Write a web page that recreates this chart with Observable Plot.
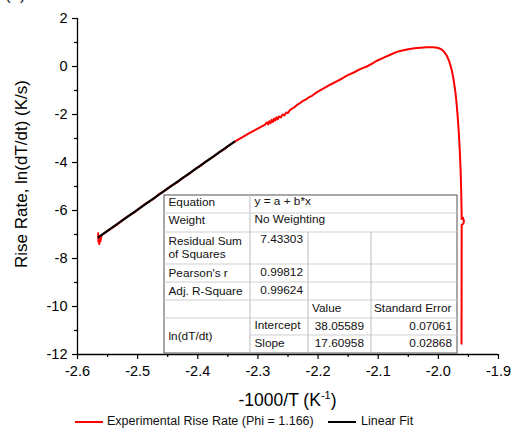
<!DOCTYPE html>
<html>
<head>
<meta charset="utf-8">
<script src="https://cdn.jsdelivr.net/npm/d3@7"></script>
<script src="https://cdn.jsdelivr.net/npm/@observablehq/plot@0.6"></script>
<style>
  html, body { margin: 0; padding: 0; background: #fff; }
  #wrap { position: relative; width: 512px; height: 430px; overflow: hidden; font-family: "Liberation Sans", Arial, sans-serif; }
  #panel { position: absolute; left: 5px; top: -15px; font-size: 17px; color: #222; }
  #legend { position: absolute; left: 0; top: 412px; width: 512px; height: 18px; font-size: 12.5px; color: #111; }
  .sw { position: absolute; top: 9px; height: 2px; }
  .lt { position: absolute; top: 1px; line-height: 16px; white-space: nowrap; }
</style>
</head>
<body>
<div id="wrap">
  <div id="chart"></div>
  <div id="panel">(a)</div>
  <div id="legend"></div>
</div>
<script>
// ---- data ----
const redSeries = [
  [-2.5657,-6.95],[-2.5652,-7.30],[-2.5645,-7.05],[-2.5638,-7.40],[-2.5630,-7.10],[-2.5622,-7.30],
  [-2.5600,-7.03],[-2.555,-6.94],[-2.545,-6.77],[-2.535,-6.60],[-2.525,-6.40],[-2.515,-6.22],
  [-2.505,-6.07],[-2.495,-5.87],[-2.485,-5.68],[-2.475,-5.54],[-2.465,-5.33],[-2.455,-5.17],
  [-2.445,-4.98],[-2.435,-4.84],[-2.425,-4.64],[-2.415,-4.49],[-2.405,-4.28],[-2.395,-4.13],
  [-2.385,-3.93],[-2.375,-3.78],[-2.365,-3.58],[-2.355,-3.43],[-2.345,-3.23],[-2.335,-3.08],
  [-2.325,-2.93],[-2.315,-2.79],[-2.305,-2.65],[-2.295,-2.52],[-2.288,-2.42],[-2.285,-2.33],
  [-2.283,-2.41],[-2.281,-2.28],[-2.279,-2.36],[-2.277,-2.22],[-2.275,-2.31],[-2.273,-2.17],
  [-2.271,-2.25],[-2.269,-2.12],[-2.267,-2.20],[-2.265,-2.08],[-2.262,-2.12],[-2.259,-2.00],
  [-2.256,-2.04],[-2.253,-1.92],[-2.250,-1.94],[-2.247,-1.82],[-2.243,-1.75],[-2.239,-1.69],
  [-2.235,-1.60],[-2.230,-1.53],[-2.225,-1.43],[-2.220,-1.37],[-2.215,-1.28],[-2.210,-1.22],
  [-2.2025,-1.08],[-2.19,-0.90],[-2.18,-0.76],[-2.169,-0.62],[-2.16,-0.50],[-2.153,-0.39],
  [-2.14,-0.24],[-2.13,-0.11],[-2.119,0.0],[-2.11,0.12],[-2.103,0.23],[-2.09,0.38],
  [-2.08,0.49],[-2.07,0.60],[-2.06,0.67],[-2.05,0.72],[-2.04,0.76],[-2.03,0.785],
  [-2.02,0.80],[-2.01,0.80],[-2.004,0.79],[-1.999,0.76],[-1.994,0.70],[-1.990,0.60],
  [-1.986,0.45],[-1.982,0.22],[-1.978,-0.12],[-1.975,-0.50],[-1.972,-1.00],[-1.970,-1.45],
  [-1.968,-2.05],[-1.966,-2.75],[-1.9645,-3.45],[-1.963,-4.30],[-1.962,-5.20],[-1.9615,-5.90],
  [-1.9612,-6.35],[-1.9590,-6.30],[-1.9575,-6.45],[-1.9585,-6.55],[-1.9612,-6.60],[-1.9613,-8.00],
  [-1.9614,-10.00],[-1.9615,-11.55]
];
const fitX = [-2.565, -2.339];
const fitY = [-7.11, -3.13];
const xTicks = [-2.6, -2.5, -2.4, -2.3, -2.2, -2.1, -2.0, -1.9];
const xMinor = [-2.55, -2.45, -2.35, -2.25, -2.15, -2.05, -1.95];
const yTicks = [-12, -10, -8, -6, -4, -2, 0, 2];
const yMinor = [-11, -9, -7, -5, -3, -1, 1];
const seriesNames = ["Experimental Rise Rate (Phi = 1.166)", "Linear Fit"];
const seriesColors = ["#ff0000", "#000000"];
const yLabel = "Rise Rate, ln(dT/dt) (K/s)";
const xLabelMain = "-1000/T (K";
const xLabelSup = "-1";
// fit table
const tableRows = [
  ["Equation", "y = a + b*x"],
  ["Weight", "No Weighting"],
  ["Residual Sum", "of Squares", "7.43303"],
  ["Pearson's r", "0.99812"],
  ["Adj. R-Square", "0.99624"],
  ["Value", "Standard Error"],
  ["ln(dT/dt)", "Intercept", "38.05589", "0.07061"],
  ["Slope", "17.60958", "0.02868"]
];

// ---- chart ----
const fitData = fitX.map((x, i) => ({x, y: fitY[i]}));
const chart = Plot.plot({
  width: 512, height: 412,
  marginLeft: 77, marginRight: 14, marginTop: 18, marginBottom: 58,
  x: {domain: [-2.6, -1.9]},
  y: {domain: [-12, 2]},
  style: {fontFamily: "'Liberation Sans', Arial, sans-serif", fontSize: "14.5px", background: "white", color: "#000", overflow: "visible"},
  marks: [
    Plot.axisX(xTicks, {tickSize: 5, tickPadding: 6, tickFormat: d => d.toFixed(1), label: null, strokeWidth: 1.2, fontSize: 14.5}),
    Plot.axisX(xMinor, {tickSize: 3, tickFormat: () => "", label: null, strokeWidth: 1.2}),
    Plot.axisY(yTicks, {tickSize: 5, tickPadding: 5, tickFormat: d => String(d), label: null, strokeWidth: 1.2, fontSize: 14.5}),
    Plot.axisY(yMinor, {tickSize: 3, tickFormat: () => "", label: null, strokeWidth: 1.2}),
    Plot.ruleX([-2.6], {strokeWidth: 1.3}),
    Plot.ruleY([-12], {strokeWidth: 1.3}),
    Plot.line(redSeries, {x: d => d[0], y: d => d[1], stroke: seriesColors[0], strokeWidth: 2}),
    Plot.line(fitData, {x: "x", y: "y", stroke: seriesColors[1], strokeWidth: 2.2})
  ]
});
document.getElementById("chart").appendChild(chart);

const svg = d3.select(chart);
// axis labels
svg.append("text")
  .attr("transform", "translate(27,174) rotate(-90)")
  .attr("text-anchor", "middle")
  .attr("font-size", 17)
  .attr("fill", "#000")
  .text(yLabel);
const xl = svg.append("text")
  .attr("x", 287.5).attr("y", 406)
  .attr("text-anchor", "middle")
  .attr("font-size", 17.5)
  .attr("fill", "#000");
xl.append("tspan").text(xLabelMain);
xl.append("tspan").attr("font-size", 11).attr("dy", -7).text(xLabelSup);
xl.append("tspan").attr("dy", 7).text(")");

// fit table
const colX = [164, 250, 308, 371, 457];
const rowY = [195, 213, 232, 264, 282, 300, 318, 335, 353];
const tg = svg.append("g").attr("font-size", 11.8).attr("fill", "#111");
tg.append("rect").attr("x", colX[0]).attr("y", rowY[0]).attr("width", colX[4] - colX[0]).attr("height", rowY[8] - rowY[0])
  .attr("fill", "white").attr("stroke", "#6e6e6e").attr("stroke-width", 1.2);
const inner = "#cfcfcf";
[1, 2, 3, 4, 5, 6].forEach(i => tg.append("line").attr("x1", colX[0]).attr("x2", colX[4]).attr("y1", rowY[i]).attr("y2", rowY[i]).attr("stroke", inner));
tg.append("line").attr("x1", colX[1]).attr("x2", colX[4]).attr("y1", rowY[7]).attr("y2", rowY[7]).attr("stroke", inner);
tg.append("line").attr("x1", colX[1]).attr("x2", colX[1]).attr("y1", rowY[0]).attr("y2", rowY[8]).attr("stroke", "#bdbdbd");
[2, 3].forEach(c => tg.append("line").attr("x1", colX[c]).attr("x2", colX[c]).attr("y1", rowY[2]).attr("y2", rowY[8]).attr("stroke", "#bdbdbd"));
function t(x, y, s, anchor) {
  tg.append("text").attr("x", x).attr("y", y).attr("text-anchor", anchor || "start").text(s);
}
t(168.5, 206, tableRows[0][0]); t(254.5, 205, tableRows[0][1]);
t(168.5, 224, tableRows[1][0]); t(254.5, 223, tableRows[1][1]);
t(168.5, 245, tableRows[2][0]); t(168.5, 258, tableRows[2][1]); t(303, 243, tableRows[2][2], "end");
t(168.5, 277, tableRows[3][0]); t(303, 275.5, tableRows[3][1], "end");
t(168.5, 294.5, tableRows[4][0]); t(303, 293.5, tableRows[4][1], "end");
t(312, 312, tableRows[5][0]); t(374, 312, tableRows[5][1]);
t(168.5, 340, tableRows[6][0]); t(254.5, 329, tableRows[6][1]); t(364, 329.5, tableRows[6][2], "end"); t(452, 329.5, tableRows[6][3], "end");
t(254.5, 346.5, tableRows[7][0]); t(364, 347, tableRows[7][1], "end"); t(452, 347, tableRows[7][2], "end");

// legend
const lg = document.getElementById("legend");
const swLeft = [75, 328], txLeft = [107, 361];
seriesNames.forEach((name, i) => {
  const sw = document.createElement("div");
  sw.className = "sw";
  sw.style.left = swLeft[i] + "px";
  sw.style.width = "28px";
  sw.style.background = seriesColors[i];
  lg.appendChild(sw);
  const tx = document.createElement("div");
  tx.className = "lt";
  tx.style.left = txLeft[i] + "px";
  tx.textContent = name;
  lg.appendChild(tx);
});
</script>
</body>
</html>
